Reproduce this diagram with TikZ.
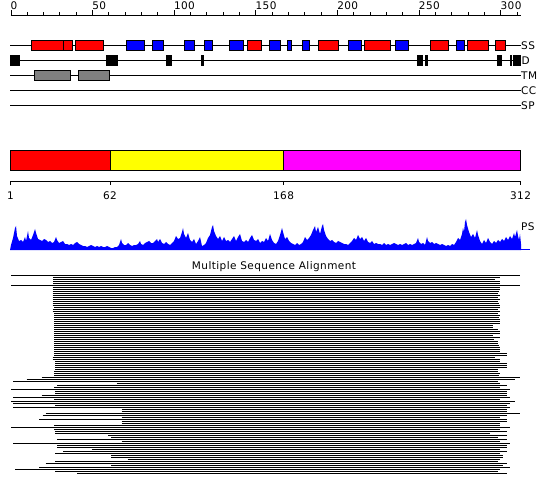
\documentclass[tikz,border=0pt]{standalone}
\usepackage{fontspec}
\setmainfont{DejaVu Sans}[LetterSpace=4]
\definecolor{tmgray}{HTML}{808080}
\definecolor{pred}{HTML}{FF0000}
\definecolor{pblue}{HTML}{0000FF}
\definecolor{pyellow}{HTML}{FFFF00}
\definecolor{pmagenta}{HTML}{FF00FF}
\tikzset{
  trk/.style={line width=1pt},
  ssred/.style={fill=pred, draw=black, line width=1pt},
  ssblue/.style={fill=pblue, draw=black, line width=1pt},
  dbox/.style={fill=black, draw=black, line width=0.4pt},
  tmbox/.style={fill=tmgray, draw=black, line width=1pt},
  lab/.style={font=\fontsize{10.5}{12}\selectfont, inner sep=0pt, anchor=base west},
  clab/.style={font=\fontsize{10.5}{12}\selectfont, inner sep=0pt, anchor=base},
  msa/.style={line width=1pt},
  dom/.style={draw=black, line width=1pt},
}
\begin{document}
\begin{tikzpicture}[x=1pt,y=-1pt]
\useasboundingbox (0,0) rectangle (550,495);
% ---- residue ruler
\draw[trk] (10.5,15.5) -- (521,15.5);
\foreach \r in {0,10,...,310} \draw[line width=1pt] ({11+1.633*\r},15.5) -- ++(0,-3);
\foreach \r in {0,50,...,300} {
  \draw[line width=1pt] ({11+1.633*\r},15.5) -- ++(0,-5);
  \node[lab] (r\r) at ({10.5+1.633*\r},9.5) {\r};
}
% ---- track lines
\foreach \y/\t in {45.5/SS,60.5/D,75.5/TM,90.5/CC,105.5/SP} {
  \draw[trk] (10,\y) -- (520.5,\y);
}
\node[lab] (lSS) at (521,49.5) {SS};
\node[lab] (lD)  at (521.5,64.5) {D};
\node[lab] (lTM) at (521,79.5) {TM};
\node[lab] (lCC) at (521,94.5) {CC};
\node[lab] (lSP) at (521,109.5) {SP};
% ---- SS boxes
\foreach \a/\b in {31.5/63.3,63.3/72.7,75.8/103,247.5/261.5,318/338.5,364.8/390.5,430.8/448,467.8/488.5,495.8/505}
  \draw[ssred] (\a,40.5) rectangle (\b,50.5);
\foreach \a/\b in {126.8/144.5,152.8/163.5,184.8/194.5,204.8/212.5,229.8/243.5,269.8/280,287.8/291.5,302.8/309.5,348.8/361.5,395.8/408.5,456.8/464.5}
  \draw[ssblue] (\a,40.5) rectangle (\b,50.5);
% ---- D boxes
\foreach \a/\b in {10/18.7,106.3/114.7,116/117.3,166/170.7,201.3/202.7,417.3/422,425.3/426.7,497/500.7,510/511.3,512.7/520.5}
  \draw[dbox] (\a,55.5) rectangle (\b,65.5);
% ---- TM boxes
\draw[tmbox] (34.8,70.5) rectangle (70,80.5);
\draw[tmbox] (78.8,70.5) rectangle (109,80.5);
% ---- domain bar
\draw[dom, fill=pred] (10.5,150.5) rectangle (110,170.5);
\draw[dom, fill=pyellow] (110,150.5) rectangle (283.5,170.5);
\draw[dom, fill=pmagenta] (283.5,150.5) rectangle (520.5,170.5);
\draw[trk] (10.5,181.5) -- (520.5,181.5);
\foreach \x/\t in {10.5/1,110/62,283.5/168,520.5/312} {
  \draw[line width=1pt] (\x,181.5) -- ++(0,4);
  \node[clab] (d\t) at (\x,199.5) {\t};
}
% ---- PS profile
\fill[pblue] (10,250) \foreach \x/\h in {11/5,13/12,15/22,16/24,17/14,19/9,21/10,23/8,25/13,26/9,28/19,29/12,31/10,33/15,35/21,36/17,38/11,40/10,42/9,44/11,46/10,48/8,50/9,52/7,54/8,56/13,57/10,59/7,61/8,63/9,65/6,67/6,69/5,71/6,73/5,75/7,77/8,79/6,81/5,83/4,85/4,87/3,89/4,91/5,93/4,95/3,97/4,99/3,101/4,103/3,105/3,107/4,109/3,111/2,113/2,115/3,117/3,119/5,121/11,122/7,124/5,126/5,128/7,130/5,132/4,134/5,136/5,138/6,140/9,141/6,143/5,145/7,147/8,149/9,151/7,153/7,155/9,157/11,158/8,160/11,162/7,164/6,166/8,168/6,170/5,172/7,174/9,176/14,178/11,180/12,182/18,183/22,184/16,186/12,188/17,190/10,192/8,194/11,196/6,198/9,200/13,202/4,204/5,206/7,208/12,210/15,212/23,213/25,214/19,216/14,218/11,220/14,222/9,224/13,226/9,228/10,230/8,232/11,234/14,236/9,238/13,240/16,242/9,244/8,246/10,248/8,250/12,252/15,254/10,256/9,258/11,260/7,262/9,264/8,266/12,268/9,270/16,272/10,274/7,276/6,278/9,280/15,282/22,283/18,285/11,287/13,289/9,291/7,293/6,295/5,297/7,299/5,301/6,303/8,305/13,307/10,309/12,311/15,313/20,315/24,316/18,318/23,320/16,322/24,323/26,324/20,326/14,328/11,330/9,332/10,334/8,336/7,338/9,340/8,342/7,344/6,346/6,348/5,350/7,352/9,354/12,356/10,358/15,360/11,362/13,364/9,366/12,368/8,370/7,372/9,374/6,376/7,378/6,380/6,382/5,384/7,386/5,388/6,390/5,392/6,394/7,396/6,398/5,400/6,402/5,404/6,406/7,408/5,410/6,412/5,414/6,416/7,418/12,419/8,421/6,423/7,425/5,427/13,428/9,430/7,432/8,434/6,436/7,438/6,440/5,442/6,444/5,446/4,448/5,450/4,452/6,454/5,456/8,458/12,460/10,462/16,463/22,464/18,465/28,466/31,467/25,469/18,471/13,473/16,475/12,477/20,478/15,480/9,482/6,484/10,486/7,488/12,490/8,492/6,494/9,496/7,498/10,500/8,502/11,504/9,506/13,508/10,510/14,512/11,514/17,515/13,517/20,518/14,519/10,520/16,521/6} { -- (\x,{250-\h}) } -- (521,250) -- cycle;
\draw[pblue, line width=1pt] (10,249.5) -- (530,249.5);
\node[lab] (lPS) at (521,230) {PS};
% ---- MSA
\node[clab] (title) at (274,269.5) {Multiple Sequence Alignment};
\foreach \l/\r [count=\k from 0] in {11/520.3,53.3/500.3,53.3/495.3,53.3/500.3,53.3/500.3,11/520.3,52.5/500.3,52.5/500.3,52.5/499.3,52.5/498.3,52.5/500.3,52.5/498.3,52.5/500.3,52.5/498.3,52.5/499.3,52.5/500.3,54/500.3,52.5/498.3,52.5/500.3,54.3/498.3,54.3/500.3,54.3/499.3,54.3/500.3,54.3/500.3,54.3/500.3,54.3/493.3,54.3/493.3,54.3/498.3,54.3/500.3,54.3/500.3,54.3/493.3,54.3/500.3,54.3/494.3,54.3/498.3,54.3/498.3,54.3/499.3,54.3/500.3,54.3/500.3,54.3/500.3,54.3/506.7,54.3/506.7,52.5/495.3,52.5/500.3,55/500.3,55/506.7,55/506.7,55/506.7,55/498.3,
54.3/498.3,54.3/500.3,54.3/499.3,41.7/520.3,26.7/515.3,13.3/498.3,116.7/500.3,57.3/506.7,54.3/500.3,11/510.3,55/506.7,55/506.7,41.7/506.7,13.3/510.3,54.3/500.3,11/515.3,13.3/510.3,55/506.7,13.3/510.3,121.7/506.7,121.7/506.7,45.7/520.3,42.7/506.7,121.7/500.3,39.3/506.7,121.7/506.7,121.7/500.3,54.3/500.3,11/510.3,54.3/500.3,55/506.7,55/490.3,108.3/506.7,111/498.3,57.3/506.7,121.7/500.3,13.3/510.3,57.3/506.7,57.3/506.7,91.7/500.3,63.3/506.7,55/500.3,111/503.3,111/503.3,127.7/500.3,55/498.3,45.7/506.7,111/503.3,39.3/510.3,15/500.3,55/498.3,77.3/506.7}
  \draw[msa] (\l,{275.5+2*\k}) -- (\r,{275.5+2*\k});
\end{tikzpicture}
\end{document}
